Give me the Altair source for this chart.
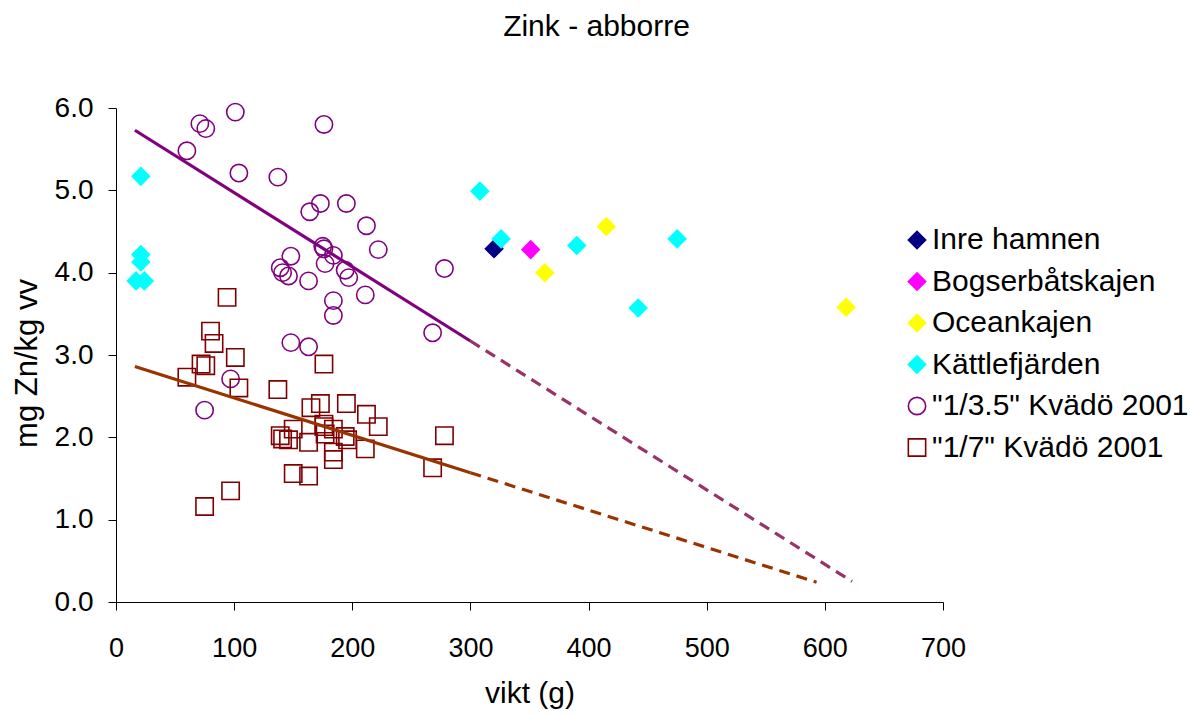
import altair as alt
import pandas as pd

# Series names, in legend / drawing order
serier = [
    "Inre hamnen",
    "Bogserbåtskajen",
    "Oceankajen",
    "Kättlefjärden",
    '"1/3.5" Kvädö 2001',
    '"1/7" Kvädö 2001',
]

# vikt (g) and mg Zn/kg vv per series
inre_x = [320]
inre_y = [4.29]

bogser_x = [351]
bogser_y = [4.28]

ocean_x = [363, 415, 618]
ocean_y = [4.00, 4.56, 3.58]

kattle_x = [21, 21, 21, 17, 24, 308, 326, 390, 442, 475]
kattle_y = [5.17, 4.22, 4.13, 3.90, 3.90, 4.99, 4.41, 4.33, 3.57, 4.41]

kvado35_x = [60, 71, 76, 101, 104, 137, 176, 173, 195, 164, 212, 222, 175, 176,
             184, 148, 139, 141, 146, 163, 177, 194, 197, 211, 184, 184, 278, 268,
             148, 163, 97, 75]
kvado35_y = [5.48, 5.81, 5.75, 5.95, 5.21, 5.16, 5.80, 4.84, 4.84, 4.74, 4.57, 4.28,
             4.32, 4.29, 4.21, 4.20, 4.06, 4.00, 3.96, 3.90, 4.11, 4.03, 3.94, 3.73,
             3.66, 3.48, 4.05, 3.27, 3.15, 3.10, 2.71, 2.33]

kvado7_x = [60, 72, 76, 101, 104, 137, 176, 173, 195, 165, 212, 222, 176, 176,
            184, 150, 139, 141, 146, 163, 177, 194, 196, 211, 184, 184, 278, 268,
            150, 163, 97, 75, 80, 83, 94]
kvado7_y = [2.73, 2.89, 2.87, 2.97, 2.60, 2.58, 2.89, 2.41, 2.41, 2.36, 2.28, 2.13,
            2.16, 2.13, 2.10, 2.10, 2.02, 1.98, 1.97, 1.94, 2.04, 2.01, 1.97, 1.86,
            1.82, 1.73, 2.02, 1.63, 1.56, 1.53, 1.35, 1.16, 3.29, 3.14, 3.70]

# Linear trend lines: fitted range (solid) and extrapolation (dashed)
trend35_x = [16, 300]
trend35_y = [5.73, 3.17]
trend35_ext_x = [300, 623]
trend35_ext_y = [3.17, 0.25]

trend7_x = [16, 300]
trend7_y = [2.86, 1.57]
trend7_ext_x = [300, 593]
trend7_ext_y = [1.57, 0.24]

fill_colors = ["#000080", "#FF00FF", "#FFFF00", "#00FFFF", "transparent", "transparent"]
stroke_colors = ["#000080", "#FF00FF", "#FFFF00", "#00FFFF", "#800080", "#800000"]
shapes = ["diamond", "diamond", "diamond", "diamond", "circle", "square"]
sizes = [300, 300, 300, 300, 160, 160]

series_data = [
    (inre_x, inre_y), (bogser_x, bogser_y), (ocean_x, ocean_y),
    (kattle_x, kattle_y), (kvado35_x, kvado35_y), (kvado7_x, kvado7_y),
]
rows = []
for i, (xs, ys) in enumerate(series_data):
    for xv, yv in zip(xs, ys):
        rows.append({"serie": serier[i], "order": i, "vikt": xv, "zn": yv})
points = pd.DataFrame(rows)

FONT = "Liberation Sans"
x_scale = alt.Scale(domain=[0, 700], nice=False, zero=True)
y_scale = alt.Scale(domain=[0, 6], nice=False)

x_enc = alt.X(
    "vikt:Q", scale=x_scale,
    axis=alt.Axis(
        values=list(range(0, 701, 100)), title="vikt (g)", grid=False,
        labelFontSize=27, labelPadding=25, tickSize=8, tickColor="black",
        labelFlush=False,
        domainColor="black", labelColor="black", titleColor="black",
        titleFontSize=30, titleFontWeight="normal", titleY=100,
        titleBaseline="alphabetic",
    ),
)
y_enc = alt.Y(
    "zn:Q", scale=y_scale,
    axis=alt.Axis(
        values=[0, 1, 2, 3, 4, 5, 6], format=".1f", title="mg Zn/kg vv", grid=False,
        labelFontSize=28, labelPadding=15, tickSize=8, tickColor="black",
        domainColor="black", labelColor="black", titleColor="black",
        titleFontSize=31, titleFontWeight="normal", titleX=-89, titleY=255,
        titleBaseline="middle",
    ),
)

legend = alt.Legend(
    orient="none", legendX=786, legendY=117, title=None,
    labelFontSize=30, labelFont=FONT, labelColor="black", labelLimit=500,
    rowPadding=11.5, labelOffset=0, symbolStrokeWidth=1.6,
)

pts = alt.Chart(points).mark_point(strokeWidth=1.6, opacity=1).encode(
    x=x_enc,
    y=y_enc,
    fill=alt.Fill("serie:N", scale=alt.Scale(domain=serier, range=fill_colors), legend=legend),
    stroke=alt.Stroke("serie:N", scale=alt.Scale(domain=serier, range=stroke_colors), legend=legend),
    shape=alt.Shape("serie:N", scale=alt.Scale(domain=serier, range=shapes), legend=legend),
    size=alt.Size("serie:N", scale=alt.Scale(domain=serier, range=sizes), legend=legend),
    order=alt.Order("order:Q"),
)


def trend(xs, ys, color, dashed):
    df = pd.DataFrame({"vikt": xs, "zn": ys})
    mark = alt.Chart(df).mark_line(
        color=color, strokeWidth=3.2, strokeCap="butt",
        **({"strokeDash": [11, 7]} if dashed else {}),
    )
    return mark.encode(
        x=alt.X("vikt:Q", scale=x_scale),
        y=alt.Y("zn:Q", scale=y_scale),
    )


lines = [
    trend(trend35_x, trend35_y, "#800080", False),
    trend(trend35_ext_x, trend35_ext_y, "#993366", True),
    trend(trend7_x, trend7_y, "#993300", False),
    trend(trend7_ext_x, trend7_ext_y, "#993300", True),
]

chart = alt.layer(pts, *lines).properties(
    width=827,
    height=494,
    title=alt.TitleParams(
        "Zink - abborre", fontSize=30, font=FONT, fontWeight="normal",
        color="black", anchor="middle", frame="group", dx=67, offset=28,
        baseline="alphabetic",
    ),
    padding={"left": 116, "top": 108, "right": 247, "bottom": 114},
    autosize=alt.AutoSizeParams(type="none"),
    background="white",
).configure(font=FONT).configure_view(stroke=None)

chart.save("out.html", embed_options={"renderer": "svg", "actions": False})
